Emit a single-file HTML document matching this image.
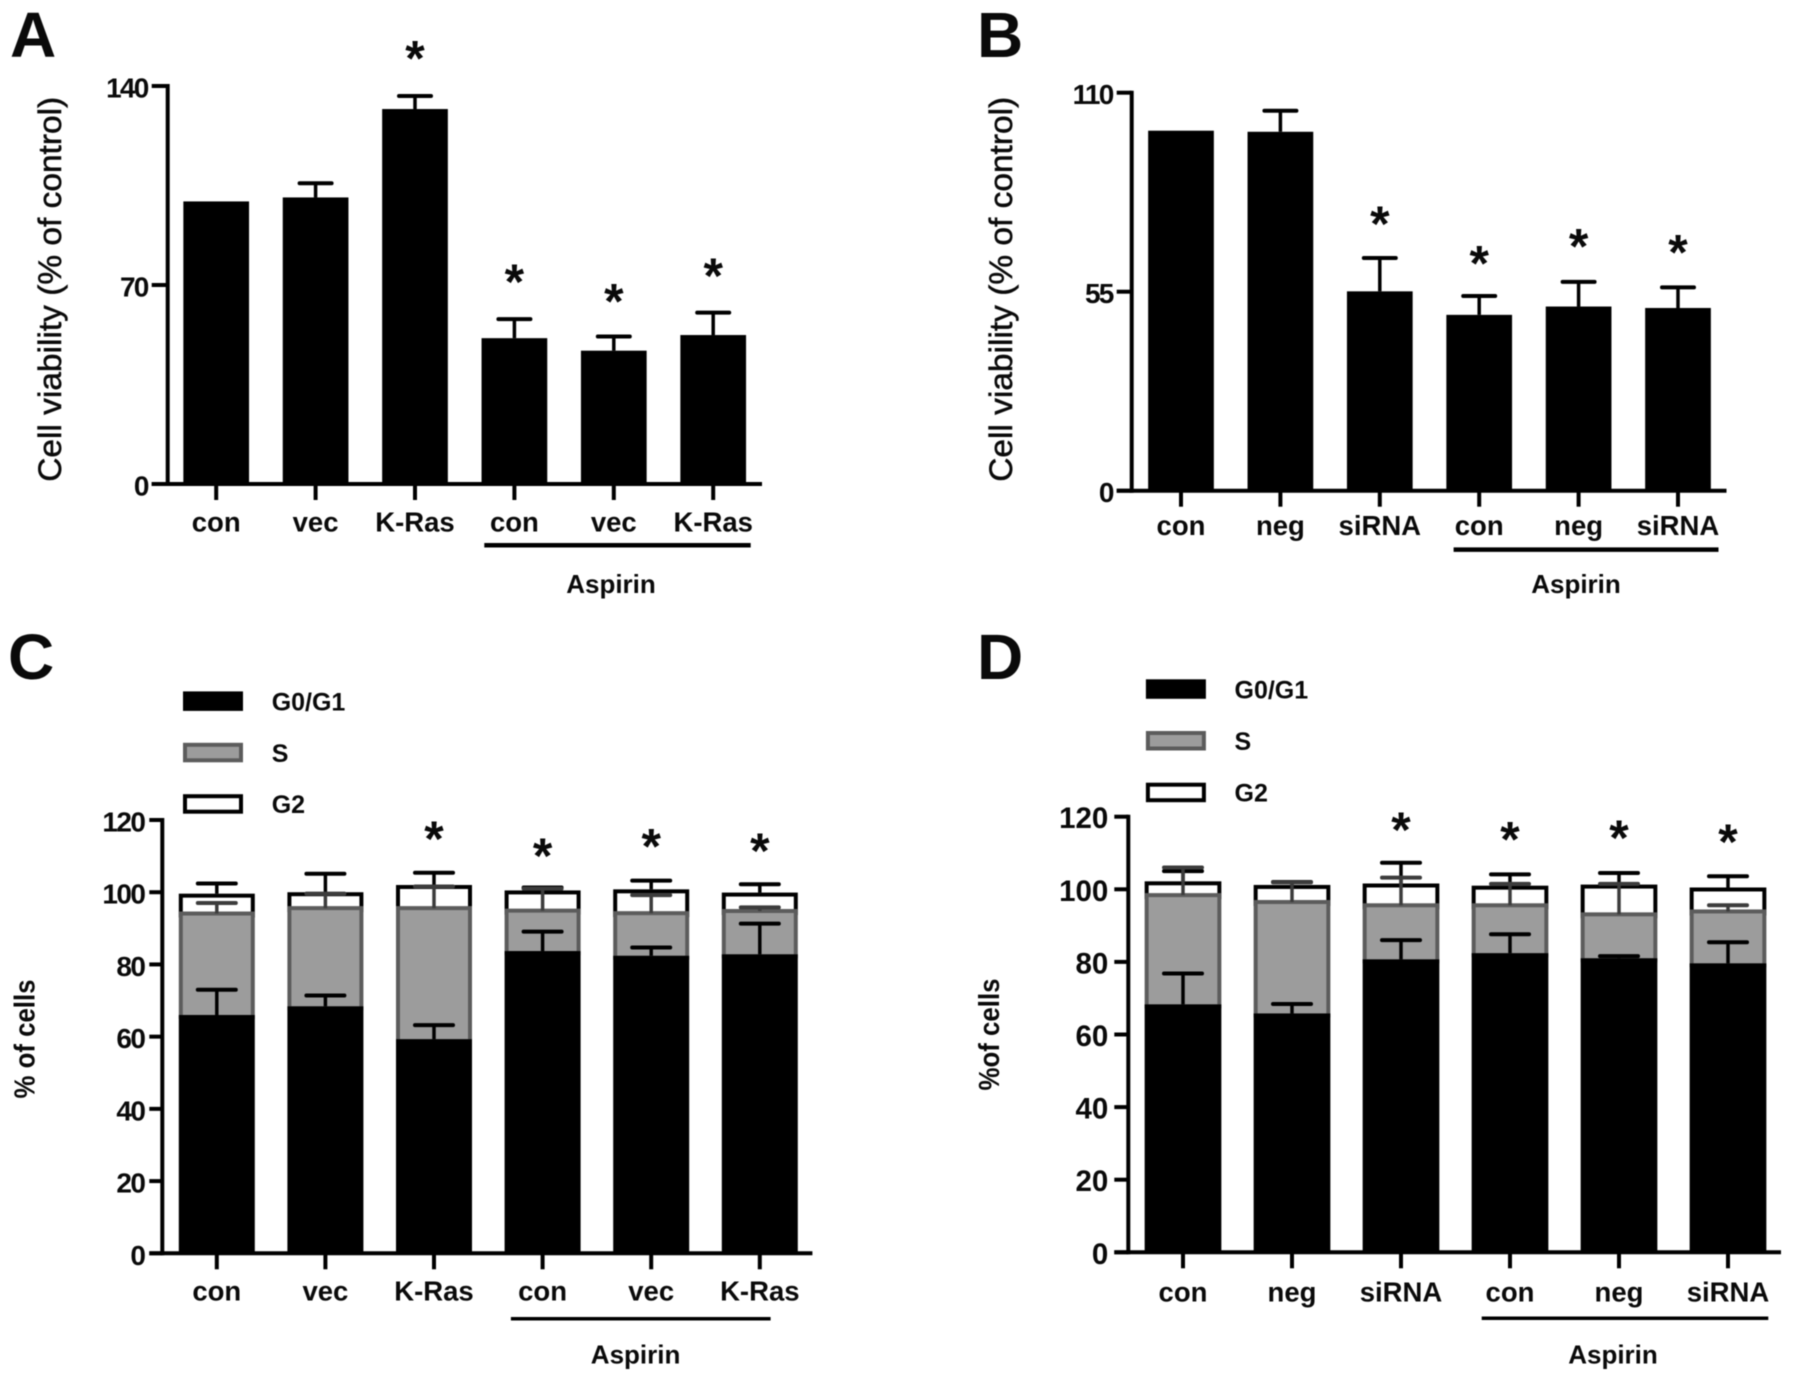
<!DOCTYPE html>
<html lang="en">
<head>
<meta charset="utf-8">
<title>Cell viability and cell cycle charts</title>
<style>
html,body{margin:0;padding:0;background:#fff;width:1795px;height:1382px;overflow:hidden}
svg{display:block;filter:blur(0.6px)}
text{font-family:"Liberation Sans",Arial,sans-serif;fill:#0a0a0a}
</style>
</head>
<body>
<svg id="figure" xmlns="http://www.w3.org/2000/svg" width="1795" height="1382" viewBox="0 0 1795 1382"></svg>
<script>
// Panel A
const panelACategories = ['con', 'vec', 'K-Ras', 'con', 'vec', 'K-Ras'];
const panelAValues = [99.4, 100.8, 131.9, 51.3, 46.9, 52.4];
const panelAErrorTops = [null, 105.8, 136.5, 58, 51.9, 60.3];
const panelAStars = [null, null, 152.1, 73.5, 66.6, 75.6];
const panelATicks = [0, 70, 140];
// Panel B
const panelBCategories = ['con', 'neg', 'siRNA', 'con', 'neg', 'siRNA'];
const panelBValues = [99.5, 99.2, 55.1, 48.6, 50.9, 50.5];
const panelBErrorTops = [null, 105, 64.3, 53.8, 57.7, 56.2];
const panelBStars = [null, null, 75.6, 64.7, 69.4, 67.8];
const panelBTicks = [0, 55, 110];
// Panel C (cumulative stack tops)
const panelCCategories = ['con', 'vec', 'K-Ras', 'con', 'vec', 'K-Ras'];
const panelCG0 = [66, 68.4, 59.3, 83.7, 82.4, 82.8];
const panelCS = [94.1, 95.6, 95.6, 94.9, 94.2, 94.8];
const panelCG2 = [99.6, 100, 102, 100.5, 100.8, 99.9];
const panelCG0Err = [73, 71.4, 63.2, 89.1, 84.7, 91.3];
const panelCSErr = [97, 99.6, 101.6, 101, 99.2, 95.8];
const panelCG2Err = [102.4, 105.1, 105.4, 101.3, 103.2, 102.2];
const panelCStars = [null, null, 116.7, 112, 114.6, 113.3];
const panelCTicks = [0, 20, 40, 60, 80, 100, 120];
// Panel D (cumulative stack tops)
const panelDCategories = ['con', 'neg', 'siRNA', 'con', 'neg', 'siRNA'];
const panelDG0 = [68.3, 65.8, 80.7, 82.4, 81, 79.6];
const panelDS = [98.4, 96.5, 95.6, 95.6, 93.1, 93.9];
const panelDG2 = [102.2, 101.2, 101.6, 101, 101.3, 100.5];
const panelDG0Err = [76.8, 68.4, 86, 87.6, 81.6, 85.4];
const panelDSErr = [106, 101.9, 103.2, 101.5, 101.5, 95.6];
const panelDG2Err = [105, 102, 107.3, 104.1, 104.5, 103.6];
const panelDStars = [null, null, 118.2, 115.6, 116, 114.9];
const panelDTicks = [0, 20, 40, 60, 80, 100, 120];
const legendLabels = ['G0/G1', 'S', 'G2'];

const svg = document.getElementById('figure');
const NS = 'http://www.w3.org/2000/svg';
const GREY_FILL = '#9c9c9c';
const GREY_LINE = '#5c5c5c';

function mk(parent, tag, attrs, content) {
  const el = document.createElementNS(NS, tag);
  for (const k in attrs) el.setAttribute(k, attrs[k]);
  if (content !== undefined) el.textContent = content;
  parent.appendChild(el);
  return el;
}
function line(parent, x1, y1, x2, y2, color, w, name) {
  const el = mk(parent, 'line', {x1, y1, x2, y2, stroke: color, 'stroke-width': w});
  
  
  return el;
}
function label(parent, x, y, str, size, anchor, name, extra) {
  const el = mk(parent, 'text', Object.assign({x, y, 'font-size': size, 'font-weight': 'bold', 'text-anchor': anchor}, extra || {}), str);
  
  
  return el;
}
function makeAxes(cfg) {
  const domainMax = cfg.ticks[cfg.ticks.length - 1];
  cfg.y = v => cfg.y0 - (v / domainMax) * (cfg.y0 - cfg.yTop);
  cfg.x = i => cfg.x0 + i * cfg.step;
}
function drawPanelFrame(g, cfg) {
  const axW = cfg.axisWidth;
  // y axis
  line(g, cfg.axisX, cfg.yTop - axW / 2, cfg.axisX, cfg.y0 + axW / 2, '#000', axW, 'y-axis-line');
  cfg.ticks.forEach(t => {
    line(g, cfg.tickLeft, cfg.y(t), cfg.axisX, cfg.y(t), '#000', axW, 'y-axis-tick');
    label(g, cfg.tickLeft - cfg.tickGap, cfg.y(t) + 11.5, String(t), cfg.tickSize, 'end', 'y-tick-label', {'letter-spacing': cfg.tickSpacing + 'px'});
  });
  // x axis
  line(g, cfg.tickLeft, cfg.y0, cfg.axisRight, cfg.y0, '#000', axW, 'x-axis-line');
  cfg.categories.forEach((c, i) => {
    line(g, cfg.x(i), cfg.y0, cfg.x(i), cfg.y0 + 16, '#000', axW, 'x-axis-tick');
    label(g, cfg.x(i), cfg.labelY, c, 27.5, 'middle', 'x-tick-label');
  });
  // aspirin bracket
  line(g, cfg.aspX1, cfg.aspY, cfg.aspX2, cfg.aspY, '#000', cfg.aspW, 'aspirin-bracket');
  label(g, cfg.aspTextX, cfg.aspTextY, 'Aspirin', 26, 'middle', 'aspirin-label');
  // y title
  const t = mk(g, 'text', {
    x: 0, y: 0, 'font-size': cfg.titleSize, 'font-weight': cfg.titleWeight,
    'text-anchor': 'middle', textLength: cfg.titleLen, lengthAdjust: 'spacingAndGlyphs',
    stroke: '#111', 'stroke-width': cfg.titleStroke,
    transform: 'translate(' + cfg.titleX + ',' + cfg.titleY + ') rotate(-90)'
  }, cfg.title);
  
  
  // panel letter
  label(g, cfg.letterX, cfg.letterY, cfg.letter, 64, 'start', 'panel-letter');
}
function drawStars(g, cfg) {
  cfg.stars.forEach((s, i) => {
    if (s === null) return;
    const st = mk(g, 'text', {x: cfg.x(i), y: cfg.y(s) + 24, 'font-size': 50, 'font-weight': 'bold', 'text-anchor': 'middle'}, '*');
    
    
  });
}
function errorBar(g, cfg, i, from, to, color, w, capW, name) {
  if (to === null) return;
  line(g, cfg.x(i), cfg.y(from), cfg.x(i), cfg.y(to), color, w, name + '-stem');
  const cap = mk(g, 'line', {
    x1: cfg.x(i) - capW / 2, y1: cfg.y(to), x2: cfg.x(i) + capW / 2, y2: cfg.y(to),
    stroke: color, 'stroke-width': w + 0.5, 'stroke-linecap': 'round'
  });
  
  
}
function drawSimple(cfg) {
  const g = mk(svg, 'g', {});
  
  
  makeAxes(cfg);
  cfg.values.forEach((v, i) => {
    errorBar(g, cfg, i, v, cfg.errors[i], '#000', 3.5, 32, 'error-bar');
    const top = cfg.y(v);
    const r = mk(g, 'rect', {x: cfg.x(i) - cfg.barW / 2, y: top, width: cfg.barW, height: cfg.y0 - top, fill: '#000'});
    
    
  });
  drawPanelFrame(g, cfg);
  drawStars(g, cfg);
}
function drawStacked(cfg) {
  const g = mk(svg, 'g', {});
  
  
  makeAxes(cfg);
  const sw = 4;
  cfg.g0.forEach((v, i) => {
    const x = cfg.x(i) - cfg.barW / 2;
    const yG0 = cfg.y(v), yS = cfg.y(cfg.s[i]), yG2 = cfg.y(cfg.g2[i]);
    const r2 = mk(g, 'rect', {x: x + sw / 2, y: yG2 + sw / 2, width: cfg.barW - sw, height: yS - yG2, fill: '#fff', stroke: '#000', 'stroke-width': sw});
    
    
    const r1 = mk(g, 'rect', {x: x + sw / 2, y: yS, width: cfg.barW - sw, height: yG0 - yS + 2, fill: GREY_FILL, stroke: GREY_LINE, 'stroke-width': sw});
    
    
    errorBar(g, cfg, i, cfg.g2[i], cfg.g2Err[i], '#000', 3.5, 38, 'g2-error-bar');
    errorBar(g, cfg, i, cfg.s[i], cfg.sErr[i], '#3c3c3c', 3.5, 38, 's-error-bar');
    errorBar(g, cfg, i, v, cfg.g0Err[i], '#000', 3.5, 38, 'g0-error-bar');
    const r0 = mk(g, 'rect', {x, y: yG0, width: cfg.barW, height: cfg.y0 - yG0, fill: '#000'});
    
    
  });
  drawPanelFrame(g, cfg);
  drawStars(g, cfg);
  // legend
  const fills = ['#000', GREY_FILL, '#fff'];
  const strokes = ['#000', GREY_LINE, '#000'];
  legendLabels.forEach((lab, i) => {
    const top = cfg.legendY + i * cfg.legendStep;
    const sw2 = mk(g, 'rect', {x: cfg.legendX + 2, y: top + 2, width: 56, height: 15.5, fill: fills[i], stroke: strokes[i], 'stroke-width': 4});
    
    
    label(g, cfg.legendTextX, top + 19, lab, 25, 'start', 'legend-label');
  });
}

drawSimple({
  letter: 'A', letterX: 10, letterY: 57, categories: panelACategories, values: panelAValues, errors: panelAErrorTops,
  stars: panelAStars, ticks: panelATicks, y0: 484, yTop: 86, x0: 216.2, step: 99.4, barW: 65.7,
  axisX: 167.7, tickLeft: 151.7, axisRight: 762, axisWidth: 4, labelY: 531.7, tickGap: 4, tickSize: 28, tickSpacing: -1.7,
  aspX1: 484.3, aspX2: 750.7, aspY: 545.3, aspW: 4.5, aspTextX: 611, aspTextY: 593,
  title: 'Cell viability (% of control)', titleSize: 32, titleWeight: 'normal', titleLen: 385, titleX: 61, titleY: 289.3, titleStroke: 0.5
});
drawSimple({
  letter: 'B', letterX: 977, letterY: 57, categories: panelBCategories, values: panelBValues, errors: panelBErrorTops,
  stars: panelBStars, ticks: panelBTicks, y0: 490.7, yTop: 92.7, x0: 1181, step: 99.4, barW: 65.7,
  axisX: 1131.7, tickLeft: 1116.7, axisRight: 1726.5, axisWidth: 4, labelY: 535, tickGap: 4, tickSize: 28, tickSpacing: -1.7,
  aspX1: 1453.6, aspX2: 1718.5, aspY: 549.6, aspW: 4.5, aspTextX: 1576, aspTextY: 593,
  title: 'Cell viability (% of control)', titleSize: 32, titleWeight: 'normal', titleLen: 385, titleX: 1012, titleY: 289.3, titleStroke: 0.5
});
drawStacked({
  letter: 'C', letterX: 8, letterY: 679, categories: panelCCategories, g0: panelCG0, s: panelCS, g2: panelCG2,
  g0Err: panelCG0Err, sErr: panelCSErr, g2Err: panelCG2Err,
  stars: panelCStars, ticks: panelCTicks, y0: 1253.3, yTop: 820, x0: 216.8, step: 108.6, barW: 76,
  axisX: 162.3, tickLeft: 149.3, axisRight: 812.4, axisWidth: 4, labelY: 1300.4, tickGap: 5, tickSize: 28, tickSpacing: -1.6,
  aspX1: 510.9, aspX2: 770.6, aspY: 1318.8, aspW: 3.5, aspTextX: 635.6, aspTextY: 1363.5,
  title: '% of cells', titleSize: 29, titleWeight: 'bold', titleLen: 119, titleX: 34.3, titleY: 1039, titleStroke: 0,
  legendX: 183, legendY: 691.4, legendStep: 51.4, legendTextX: 271.7
});
drawStacked({
  letter: 'D', letterX: 977, letterY: 679, categories: panelDCategories, g0: panelDG0, s: panelDS, g2: panelDG2,
  g0Err: panelDG0Err, sErr: panelDSErr, g2Err: panelDG2Err,
  stars: panelDStars, ticks: panelDTicks, y0: 1252.3, yTop: 816.7, x0: 1183, step: 109, barW: 76.7,
  axisX: 1128.3, tickLeft: 1114.3, axisRight: 1781, axisWidth: 4, labelY: 1301.3, tickGap: 6, tickSize: 29.5, tickSpacing: 0,
  aspX1: 1481.7, aspX2: 1768.3, aspY: 1318.3, aspW: 3.5, aspTextX: 1613, aspTextY: 1363.5,
  title: '%of cells', titleSize: 29, titleWeight: 'bold', titleLen: 112, titleX: 998.8, titleY: 1034.5, titleStroke: 0,
  legendX: 1145.9, legendY: 679.3, legendStep: 51.7, legendTextX: 1234.5
});
</script>
</body>
</html>
